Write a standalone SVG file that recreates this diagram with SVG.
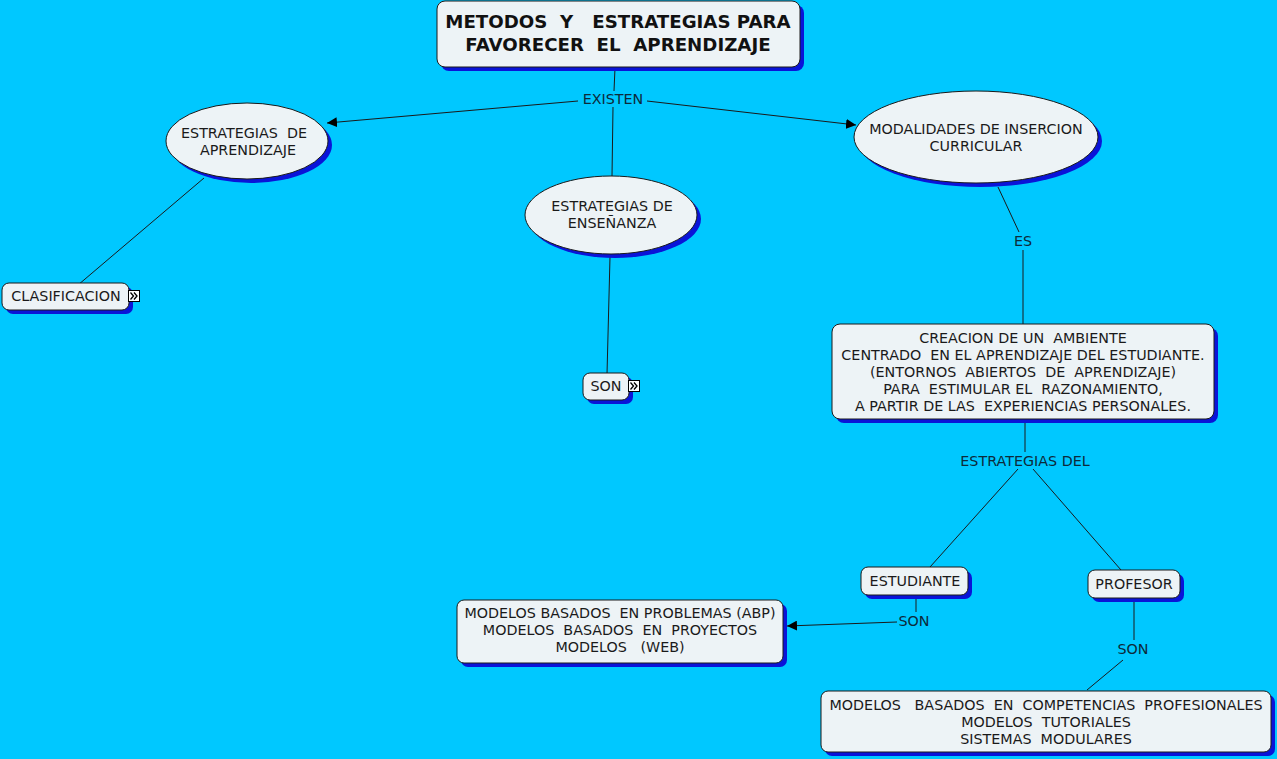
<svg xmlns="http://www.w3.org/2000/svg" width="1277" height="759" viewBox="0 0 1277 759">
<defs>
<style>
.bg{fill:#00c8ff}
.sh{fill:#0a14d8}
.nd{fill:#edf3f6;stroke:#1a1a1a;stroke-width:1}
.t{font-family:"DejaVu Sans",Verdana,sans-serif;font-size:14.3px;fill:#1a1a1a;text-anchor:middle;white-space:pre}
.tt{font-family:"DejaVu Sans",Verdana,sans-serif;font-size:18.2px;font-weight:bold;fill:#111;text-anchor:middle;white-space:pre}
.lb{font-family:"DejaVu Sans",Verdana,sans-serif;font-size:14.3px;fill:#0d2a3a;text-anchor:middle;white-space:pre}
.ln{stroke:#1a1a1a;stroke-width:1;fill:none}
.ic{fill:#fff;stroke:#000;stroke-width:1}
.chev{fill:none;stroke:#000;stroke-width:1.3}
</style>
<marker id="arr" viewBox="0 0 10 10" refX="10" refY="5" markerWidth="10" markerHeight="10" markerUnits="userSpaceOnUse" orient="auto">
<path d="M0,0 L10,5 L0,10 z" fill="#000"/>
</marker>
</defs>
<rect class="bg" x="0" y="0" width="1277" height="759"/>

<g id="connectors">
<line class="ln" x1="615" y1="68" x2="614" y2="91"/>
<line class="ln" x1="578" y1="101" x2="327" y2="123" marker-end="url(#arr)"/>
<line class="ln" x1="647" y1="101" x2="856" y2="125" marker-end="url(#arr)"/>
<line class="ln" x1="613" y1="107" x2="612" y2="176"/>
<line class="ln" x1="204" y1="178" x2="78" y2="285"/>
<line class="ln" x1="610" y1="257" x2="607" y2="374"/>
<line class="ln" x1="998" y1="187" x2="1019" y2="232"/>
<line class="ln" x1="1023" y1="250" x2="1023" y2="324"/>
<line class="ln" x1="1025" y1="420" x2="1025" y2="452"/>
<line class="ln" x1="1018" y1="469" x2="930" y2="567"/>
<line class="ln" x1="1033" y1="469" x2="1121" y2="570"/>
<line class="ln" x1="916" y1="596" x2="916" y2="612"/>
<line class="ln" x1="897" y1="622" x2="787" y2="626" marker-end="url(#arr)"/>
<line class="ln" x1="1134" y1="600" x2="1134" y2="640"/>
<line class="ln" x1="1123" y1="660" x2="1087" y2="690"/>
<text class="lb" x="613" y="104">EXISTEN</text>
<text class="lb" x="1023" y="246">ES</text>
<text class="lb" x="1025" y="466">ESTRATEGIAS DEL</text>
<text class="lb" x="914" y="626">SON</text>
<text class="lb" x="1133" y="654">SON</text>
</g>

<g id="title">
<rect class="sh" x="441" y="5" width="363" height="66" rx="8"/>
<rect class="nd" x="437" y="1" width="363" height="66" rx="8"/>
<text class="tt" x="618" y="28">METODOS  Y   ESTRATEGIAS PARA</text>
<text class="tt" x="618" y="51">FAVORECER  EL  APRENDIZAJE</text>
</g>

<g id="estrategias-aprendizaje">
<ellipse class="sh" cx="251" cy="145" rx="81" ry="38"/>
<ellipse class="nd" cx="247" cy="141" rx="81" ry="38"/>
<text class="t" x="244" y="138">ESTRATEGIAS  DE</text>
<text class="t" x="248" y="155">APRENDIZAJE</text>
</g>

<g id="estrategias-ensenanza">
<ellipse class="sh" cx="615" cy="219" rx="86" ry="39"/>
<ellipse class="nd" cx="611" cy="215" rx="86" ry="39"/>
<text class="t" x="612" y="211">ESTRATEGIAS DE</text>
<text class="t" x="612" y="228">ENSEÑANZA</text>
</g>

<g id="modalidades">
<ellipse class="sh" cx="980" cy="141" rx="122" ry="46"/>
<ellipse class="nd" cx="976" cy="137" rx="122" ry="46"/>
<text class="t" x="976" y="134">MODALIDADES DE INSERCION</text>
<text class="t" x="976" y="151">CURRICULAR</text>
</g>

<g id="clasificacion">
<rect class="sh" x="6" y="287" width="127" height="27" rx="7"/>
<rect class="nd" x="2" y="283" width="127" height="27" rx="7"/>
<text class="t" x="66" y="301">CLASIFICACION</text>
<rect class="ic" x="128.5" y="290.5" width="11" height="11"/>
<path class="chev" d="M130.5,292.5 L133.5,296 L130.5,299.5 M134,292.5 L137,296 L134,299.5"/>
</g>

<g id="son-ensenanza">
<rect class="sh" x="587" y="377" width="46" height="27" rx="7"/>
<rect class="nd" x="583" y="373" width="46" height="27" rx="7"/>
<text class="t" x="606" y="391">SON</text>
<rect class="ic" x="628.5" y="380.5" width="11" height="11"/>
<path class="chev" d="M630.5,382.5 L633.5,386 L630.5,389.5 M634,382.5 L637,386 L634,389.5"/>
</g>

<g id="creacion">
<rect class="sh" x="836" y="328" width="382" height="95" rx="8"/>
<rect class="nd" x="832" y="324" width="382" height="95" rx="8"/>
<text class="t" x="1023" y="343">CREACION DE UN  AMBIENTE</text>
<text class="t" x="1023" y="360">CENTRADO  EN EL APRENDIZAJE DEL ESTUDIANTE.</text>
<text class="t" x="1023" y="377">(ENTORNOS  ABIERTOS  DE  APRENDIZAJE)</text>
<text class="t" x="1023" y="394">PARA  ESTIMULAR EL  RAZONAMIENTO,</text>
<text class="t" x="1023" y="411">A PARTIR DE LAS  EXPERIENCIAS PERSONALES.</text>
</g>

<g id="estudiante">
<rect class="sh" x="865" y="571" width="107" height="28" rx="7"/>
<rect class="nd" x="861" y="567" width="107" height="28" rx="7"/>
<text class="t" x="915" y="586">ESTUDIANTE</text>
</g>

<g id="profesor">
<rect class="sh" x="1092" y="574" width="92" height="28" rx="7"/>
<rect class="nd" x="1088" y="570" width="92" height="28" rx="7"/>
<text class="t" x="1134" y="589">PROFESOR</text>
</g>

<g id="modelos-estudiante">
<rect class="sh" x="461" y="604" width="326" height="63" rx="7"/>
<rect class="nd" x="457" y="600" width="326" height="63" rx="7"/>
<text class="t" x="620" y="618">MODELOS BASADOS  EN PROBLEMAS (ABP)</text>
<text class="t" x="620" y="635">MODELOS  BASADOS  EN  PROYECTOS</text>
<text class="t" x="620" y="652">MODELOS   (WEB)</text>
</g>

<g id="modelos-profesor">
<rect class="sh" x="825" y="695" width="450" height="61" rx="7"/>
<rect class="nd" x="821" y="691" width="450" height="61" rx="7"/>
<text class="t" x="1046" y="710">MODELOS   BASADOS  EN  COMPETENCIAS  PROFESIONALES</text>
<text class="t" x="1046" y="727">MODELOS  TUTORIALES</text>
<text class="t" x="1046" y="744">SISTEMAS  MODULARES</text>
</g>
</svg>
